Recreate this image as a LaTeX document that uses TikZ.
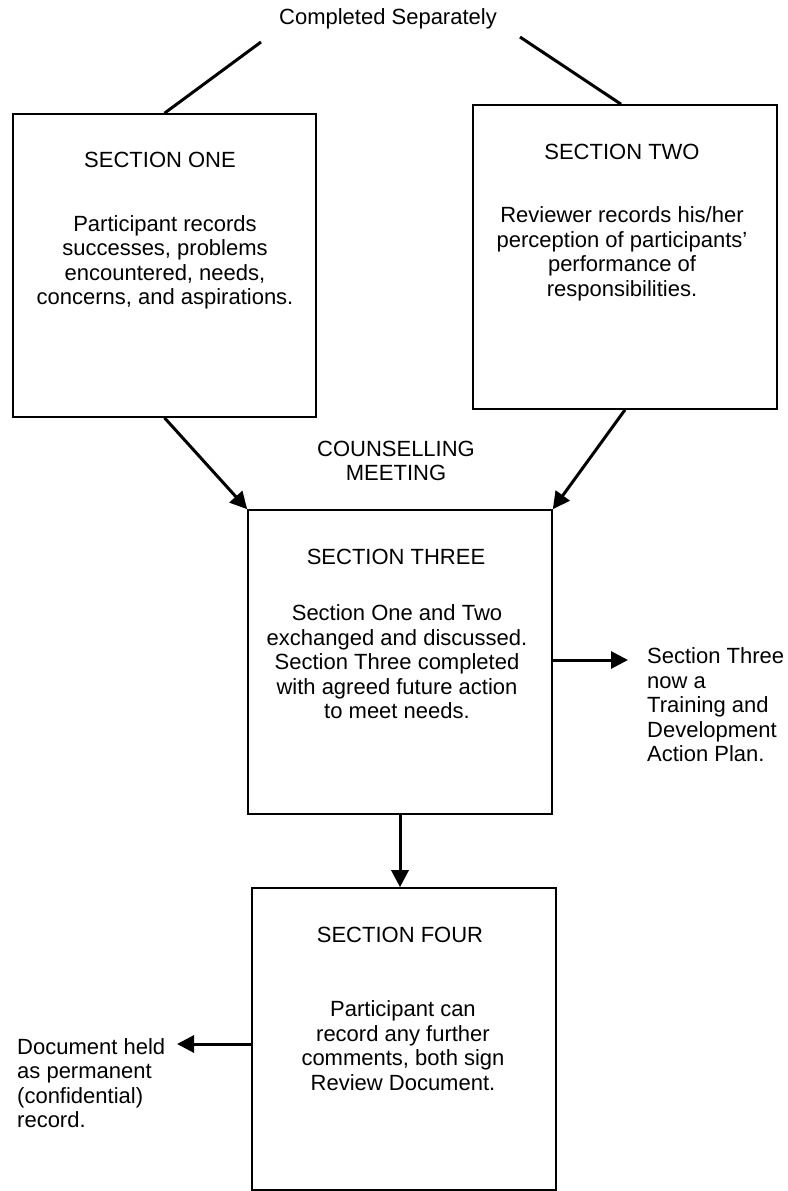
\documentclass[tikz,border=0pt]{standalone}
\usepackage{fontspec}
\setmainfont{Liberation Sans}
\usetikzlibrary{arrows.meta,calc}

\tikzset{
  sectionbox/.style={draw, line width=1.6pt, rectangle, minimum width=304pt, minimum height=304pt, inner sep=0pt},
  label/.style={inner sep=0pt, align=center, font=\fontsize{22}{24.5}\selectfont},
  sidelabel/.style={inner sep=0pt, align=left, font=\fontsize{22}{24.5}\selectfont},
  link/.style={line width=3pt},
  flow/.style={line width=3pt, -{Triangle[length=17pt,width=17pt]}}
}

\begin{document}
\begin{tikzpicture}[x=1pt,y=-1pt]
\useasboundingbox (0,0) rectangle (787,1191);

% the four sections of the review document
\node[sectionbox, minimum width=303pt, minimum height=303pt] (s1) at (164.5,265.5) {};
\node[sectionbox] (s2) at (625,257) {};
\node[sectionbox] (s3) at (400,662) {};
\node[sectionbox, minimum height=302pt] (s4) at (404,1039) {};

% headings
\node[label] (h1) at (160,160) {SECTION ONE};
\node[label] (h2) at (622,152) {SECTION TWO};
\node[label] (h3) at (396,557) {SECTION THREE};
\node[label] (h4) at (400,935) {SECTION FOUR};

% descriptions
\node[label] (b1) at (165,262.5) {Participant records\\successes, problems\\encountered, needs,\\concerns, and aspirations.};
\node[label] (b2) at (622,254) {Reviewer records his/her\\perception of participants'\\performance of\\responsibilities.};
\node[label] (b3) at (397,662) {Section One and Two\\exchanged and discussed.\\Section Three completed\\with agreed future action\\to meet needs.};
\node[label] (b4) at (403,1045.5) {Participant can\\record any further\\comments, both sign\\Review Document.};

% captions
\node[label] (cs) at (388,19) {Completed Separately};
\node[label] (cm) at (396,461) {COUNSELLING\\MEETING};
\node[sidelabel, anchor=west] (r3) at (647,705) {Section Three\\now a\\Training and\\Development\\Action Plan.};
\node[sidelabel, anchor=west] (r4) at (17,1083) {Document held\\as permanent\\(confidential)\\record.};

% free ends of the connectors
\coordinate (csL) at (261,42);
\coordinate (csR) at (520,37);
\coordinate (t3) at (628,660);
\coordinate (t4) at (177,1044);

% connectors
\draw[link] (csL) -- (s1.north);
\draw[link] (csR) -- ($(s2.north)+(-4,0)$);
\draw[flow] (s1.south) -- (s3.north west);
\draw[flow] (s2.south) -- (s3.north east);
\draw[flow] (s3.south) -- (s3.south |- s4.north);
\draw[flow] (s3.east |- t3) -- (t3);
\draw[flow] (s4.west |- t4) -- (t4);
\end{tikzpicture}
\end{document}
